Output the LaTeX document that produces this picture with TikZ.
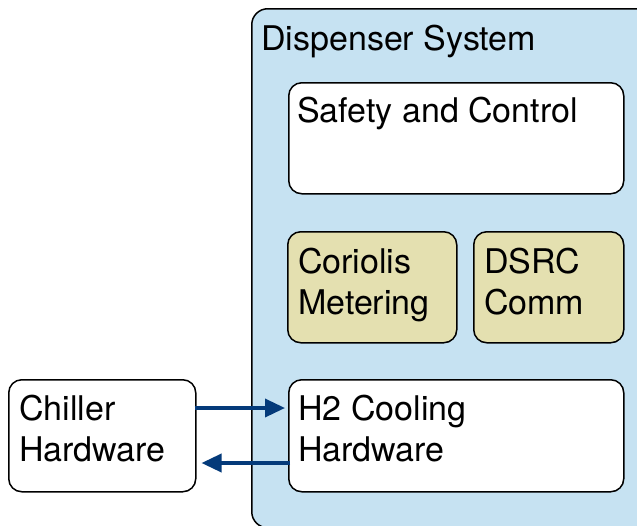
\documentclass[tikz,border=0pt]{standalone}
\usepackage{fontspec}
\setmainfont{TeX Gyre Heros}
\usetikzlibrary{arrows.meta}
\definecolor{sysblue}{HTML}{C6E2F2}
\definecolor{khaki}{HTML}{E4E0B0}
\definecolor{arrowblue}{HTML}{043A7A}
\begin{document}
\begin{tikzpicture}[x=1pt,y=-1pt,
  box/.style={draw=black, line width=1.5pt, rounded corners=13pt, fill=white, inner sep=0pt, anchor=north west},
  subbox/.style={box, fill=khaki},
  outer/.style={draw=black, line width=1.5pt, rounded corners=16pt, fill=sysblue, inner sep=0pt, anchor=north west},
  txt/.style={font=\fontsize{34}{41}\selectfont, align=left, inner sep=0pt, anchor=base west},
  link/.style={draw=arrowblue, line width=3.5pt, -{Triangle[length=20pt,width=18pt]}}
]
\useasboundingbox (0,0) rectangle (637,525);
\begin{scope}
\clip (0,0) rectangle (637,525);
\node[outer, minimum width=400pt, minimum height=519pt] (sys) at (251,8) {};
\end{scope}
\node[txt] (systxt) at (261,50) {Dispenser System};
\node[box, minimum width=335pt, minimum height=111pt] (safety) at (288,82) {};
\node[txt] (safetytxt) at (297,122) {Safety and Control};
\node[subbox, minimum width=169pt, minimum height=111pt] (coriolis) at (287,231) {};
\node[txt] (coriolistxt) at (298,314) {Coriolis\\Metering};
\node[subbox, minimum width=150pt, minimum height=111pt] (dsrc) at (473,231) {};
\node[txt] (dsrctxt) at (484,314) {DSRC\\Comm};
\node[box, minimum width=335pt, minimum height=112pt] (cooling) at (288,379) {};
\node[txt] (coolingtxt) at (298,461) {H2 Cooling\\Hardware};
\node[box, minimum width=187pt, minimum height=112pt] (chiller) at (8,379) {};
\node[txt] (chillertxt) at (19,461) {Chiller\\Hardware};
\draw[link] ([xshift=-2pt]chiller.east |- 0,408) -- ([xshift=-3pt]cooling.west |- 0,408);
\draw[link] ([xshift=2pt]cooling.west |- 0,463) -- ([xshift=5pt]chiller.east |- 0,463);
\end{tikzpicture}
\end{document}
